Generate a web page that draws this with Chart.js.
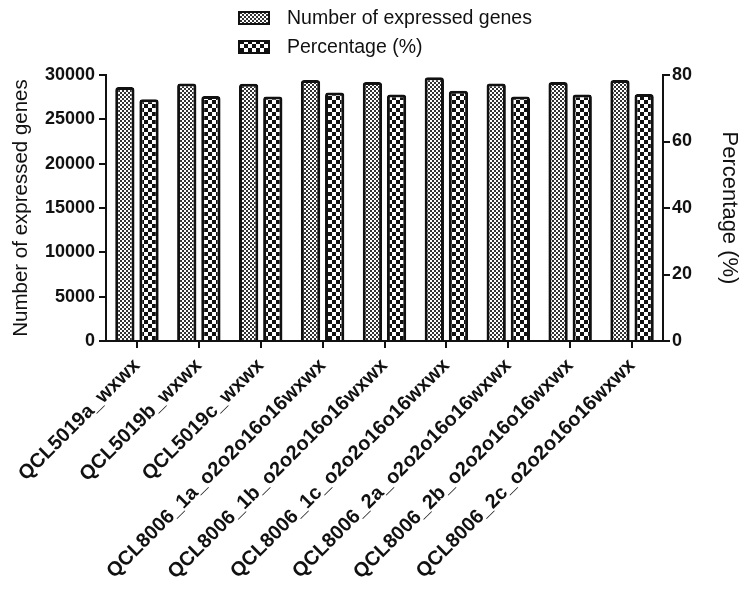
<!DOCTYPE html>
<html>
<head>
<meta charset="utf-8">
<script src="https://cdn.jsdelivr.net/npm/chart.js@4"></script>
<style>
  html, body { margin: 0; padding: 0; background: #fff; }
  #wrap { width: 742px; height: 592px; }
</style>
</head>
<body>
<div id="wrap"><canvas id="barChart" width="742" height="592"></canvas></div>
<script>
// Samples and values
const samples = [
  'QCL5019a_wxwx', 'QCL5019b_wxwx', 'QCL5019c_wxwx',
  'QCL8006_1a_o2o2o16o16wxwx', 'QCL8006_1b_o2o2o16o16wxwx', 'QCL8006_1c_o2o2o16o16wxwx',
  'QCL8006_2a_o2o2o16o16wxwx', 'QCL8006_2b_o2o2o16o16wxwx', 'QCL8006_2c_o2o2o16o16wxwx'
];
const expressedGenes = [28650, 29050, 29000, 29430, 29210, 29740, 29050, 29210, 29430];
const percentage = [72.7, 73.7, 73.5, 74.7, 74.1, 75.3, 73.5, 74.1, 74.3];
const geneTicks = [0, 5000, 10000, 15000, 20000, 25000, 30000];
const pctTicks = [0, 20, 40, 60, 80];

const FONT = '"Liberation Sans", Arial, sans-serif';
const INK = '#111';

const canvas = document.getElementById('barChart');
const mainCtx = canvas.getContext('2d');

// checkerboard fill, cell = size of one square
function checker(cell, fg, bg) {
  const c = document.createElement('canvas');
  c.width = c.height = cell * 2;
  const g = c.getContext('2d');
  g.fillStyle = bg;
  g.fillRect(0, 0, cell * 2, cell * 2);
  g.fillStyle = fg;
  g.fillRect(0, 0, cell, cell);
  g.fillRect(cell, cell, cell, cell);
  return mainCtx.createPattern(c, 'repeat');
}

const fineFill = checker(2, '#333', '#fff');
const coarseFill = checker(4, '#111', '#fff');

// two-row legend at the top
const stackedLegend = {
  id: 'stackedLegend',
  afterDraw(chart) {
    const ctx = chart.ctx;
    ctx.save();
    ctx.font = '19.5px ' + FONT;
    ctx.textBaseline = 'middle';
    chart.data.datasets.forEach((ds, i) => {
      const y = 18 + i * 29;
      ctx.fillStyle = ds.backgroundColor;
      ctx.fillRect(239, y - 6, 30, 12);
      ctx.lineWidth = 2;
      ctx.strokeStyle = INK;
      ctx.strokeRect(239, y - 6, 30, 12);
      ctx.fillStyle = INK;
      ctx.fillText(ds.label, 287, y + 1);
    });
    ctx.restore();
  }
};

const axisGrid = {
  drawOnChartArea: false,
  drawTicks: true,
  tickLength: 7,
  color: INK,
  lineWidth: 2
};

const plainNumber = v => String(v);

new Chart(canvas, {
  type: 'bar',
  data: {
    labels: samples,
    datasets: [{
      label: 'Number of expressed genes',
      data: expressedGenes,
      yAxisID: 'y',
      backgroundColor: fineFill,
      borderColor: INK,
      borderWidth: 3,
      borderRadius: 3,
      categoryPercentage: 0.78,
      barPercentage: 0.8
    }, {
      label: 'Percentage (%)',
      data: percentage,
      yAxisID: 'y1',
      backgroundColor: coarseFill,
      borderColor: INK,
      borderWidth: 3,
      borderRadius: 3,
      categoryPercentage: 0.78,
      barPercentage: 0.8
    }]
  },
  plugins: [stackedLegend],
  options: {
    responsive: false,
    animation: false,
    layout: { padding: { top: 75, left: 0, right: 0, bottom: 0 } },
    plugins: {
      legend: { display: false },
      tooltip: { enabled: false }
    },
    scales: {
      x: {
        grid: { ...axisGrid, offset: false },
        border: { color: INK, width: 2 },
        ticks: {
          color: INK,
          font: { family: FONT, size: 20, weight: 'bold' },
          maxRotation: 45,
          minRotation: 45,
          autoSkip: false,
          padding: 6
        },
        afterFit(s) { s.height = 251; }
      },
      y: {
        position: 'left',
        min: geneTicks[0],
        max: geneTicks[geneTicks.length - 1],
        grid: axisGrid,
        border: { color: INK, width: 2 },
        ticks: {
          stepSize: geneTicks[1] - geneTicks[0],
          callback: plainNumber,
          color: INK,
          font: { family: FONT, size: 18, weight: 'bold' },
          padding: 4
        },
        title: {
          display: true,
          text: 'Number of expressed genes',
          color: INK,
          font: { family: FONT, size: 20.5 },
          padding: { top: 9, bottom: 0 }
        },
        afterFit(s) { s.width = 106; }
      },
      y1: {
        position: 'right',
        min: pctTicks[0],
        max: pctTicks[pctTicks.length - 1],
        grid: axisGrid,
        border: { color: INK, width: 2 },
        ticks: {
          stepSize: pctTicks[1] - pctTicks[0],
          callback: plainNumber,
          color: INK,
          font: { family: FONT, size: 18, weight: 'bold' },
          padding: 2
        },
        title: {
          display: true,
          text: 'Percentage (%)',
          color: INK,
          font: { family: FONT, size: 22 },
          padding: { top: 0, bottom: 4 }
        },
        afterFit(s) { s.width = 79; }
      }
    }
  }
});
</script>
</body>
</html>
